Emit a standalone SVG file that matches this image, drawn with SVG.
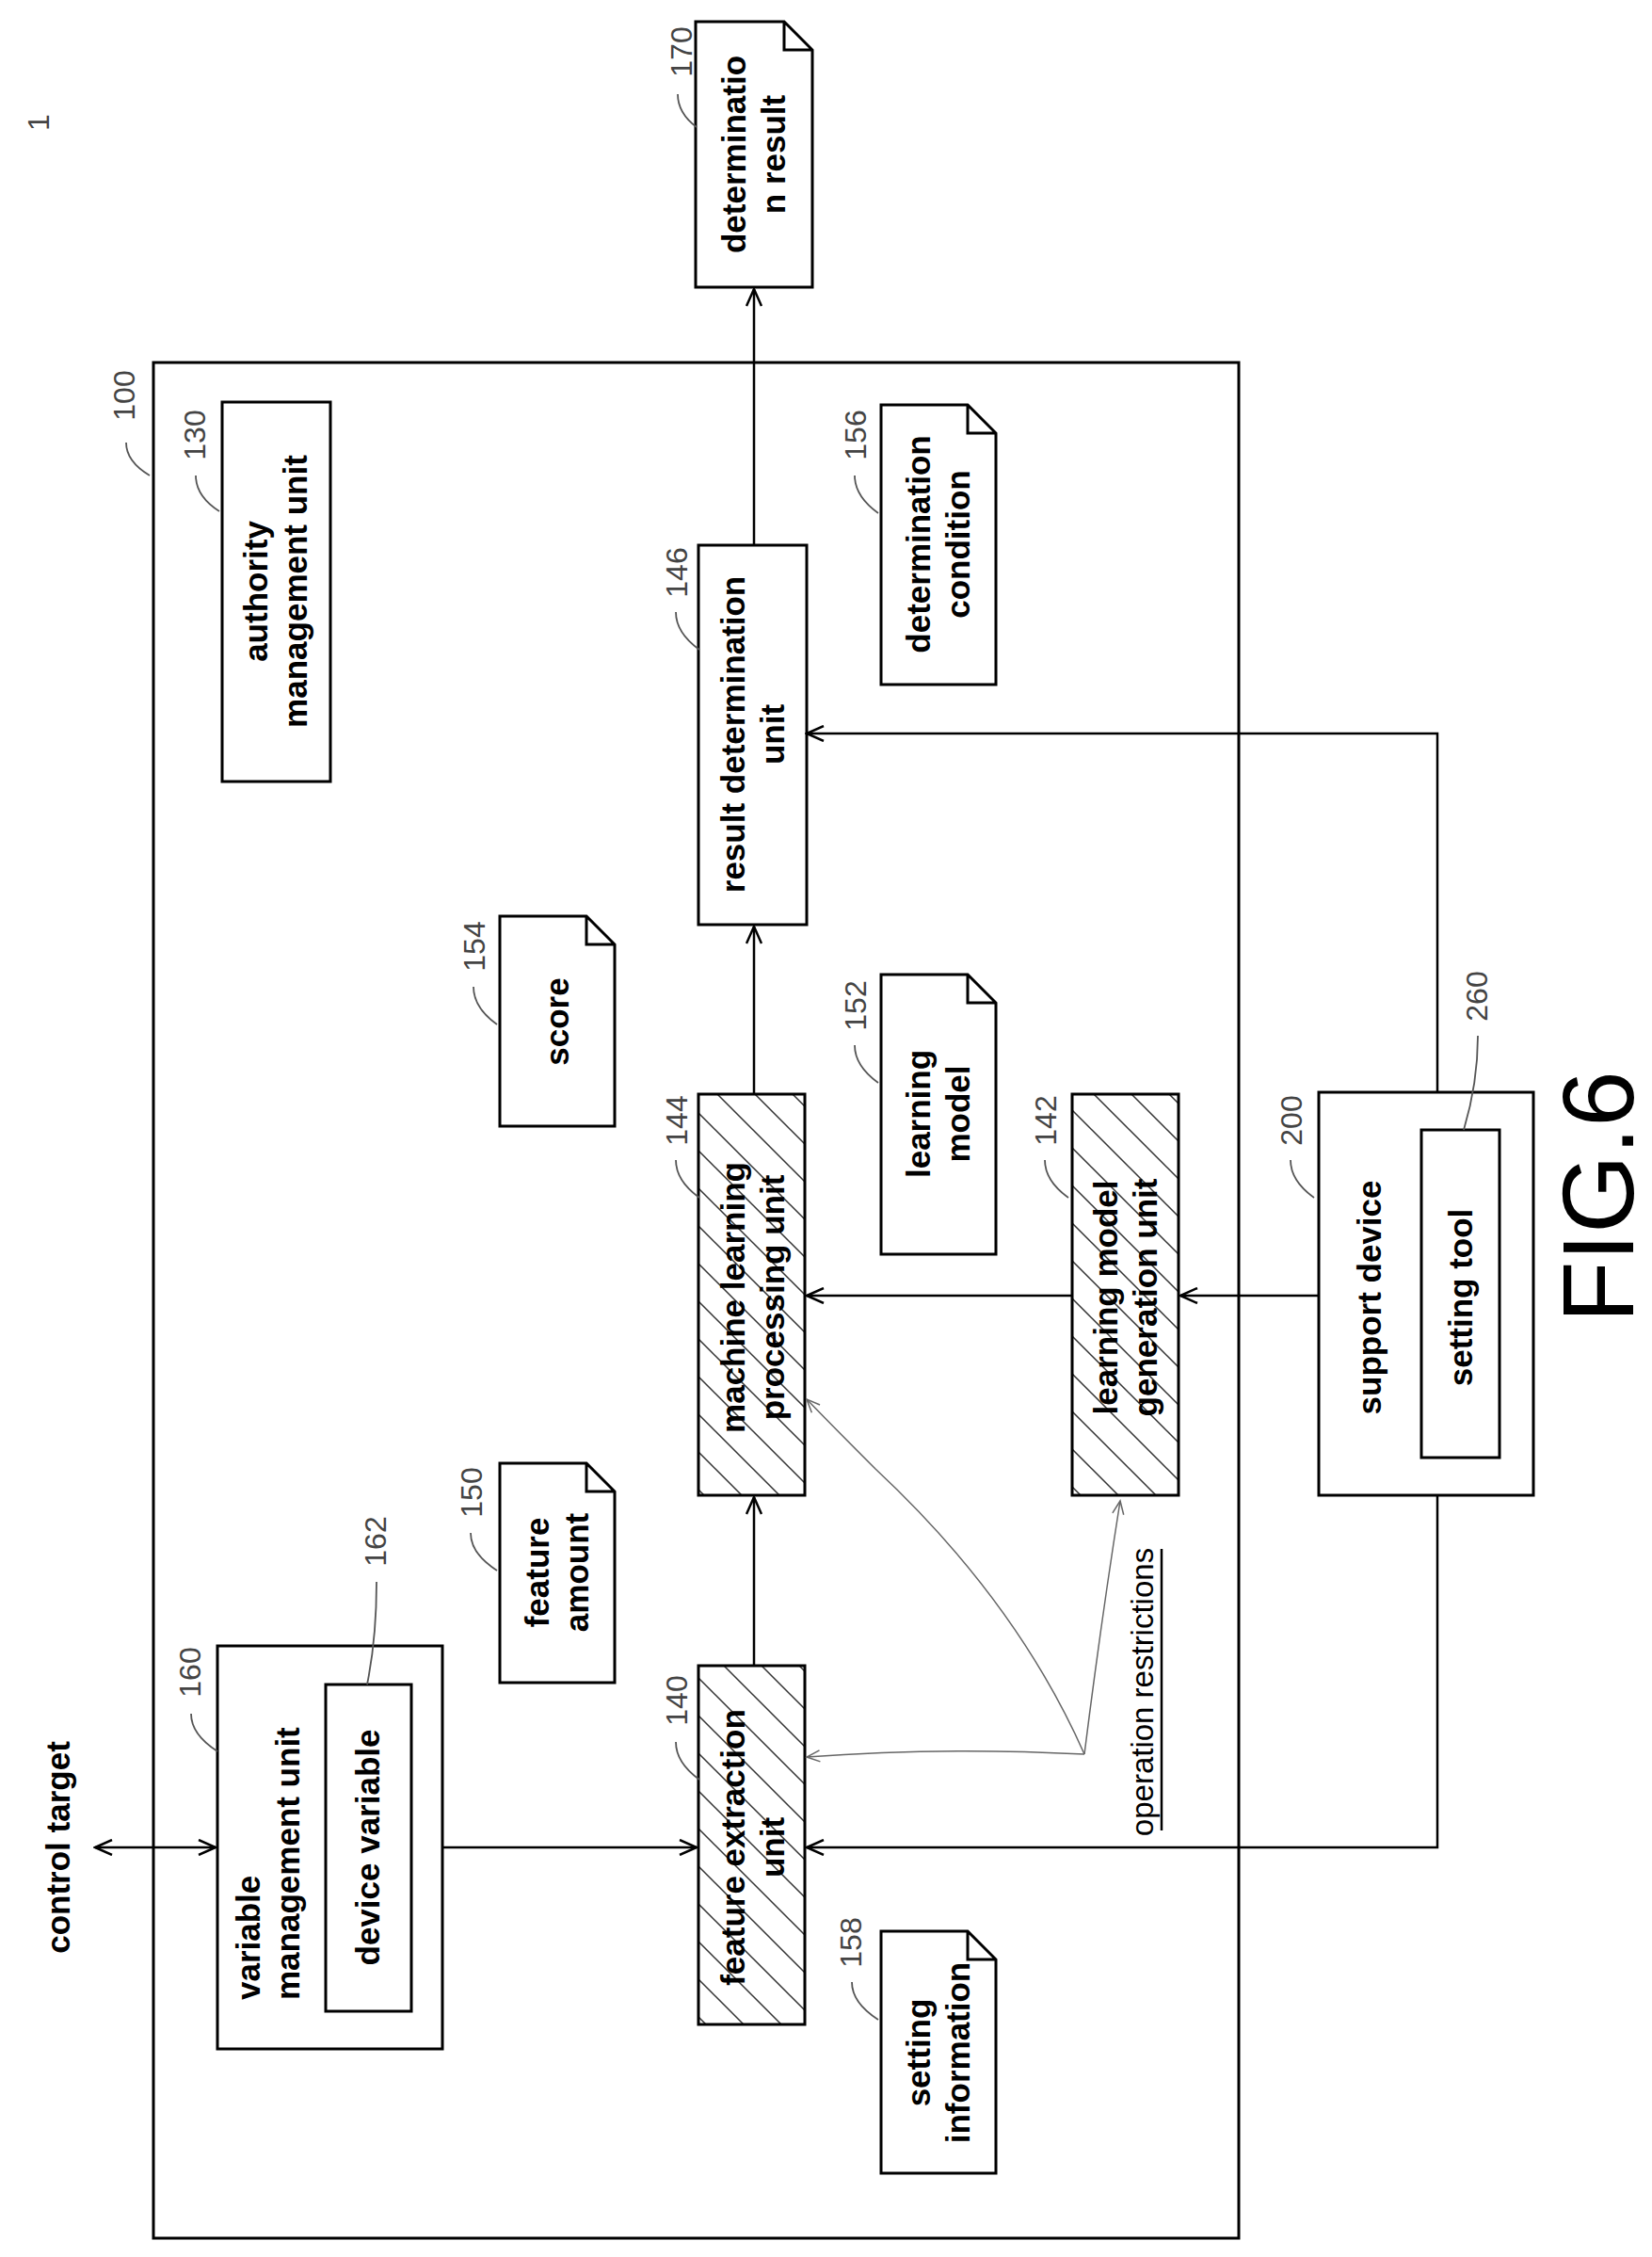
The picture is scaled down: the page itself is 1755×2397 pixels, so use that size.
<svg xmlns="http://www.w3.org/2000/svg" width="1755" height="2397" viewBox="0 0 1755 2397">
<style>
.b{fill:#fff;stroke:#000;stroke-width:3}
.h{fill:url(#hatch);stroke:#000;stroke-width:3}
.t{font-family:"Liberation Sans",Arial,sans-serif;font-weight:bold;font-size:35px;fill:#000;text-anchor:middle}
.n{font-family:"Liberation Sans",Arial,sans-serif;font-size:32px;fill:#444;text-anchor:middle}
.l{fill:none;stroke:#000;stroke-width:2.5}
.ld{fill:none;stroke:#555;stroke-width:1.8}
.th{fill:none;stroke:#666;stroke-width:1.5}
</style>
<defs>
<pattern id="hatch" patternUnits="userSpaceOnUse" width="40" height="40">
<rect width="40" height="40" fill="#fff"/>
<path d="M0,0 L40,40 M-10,30 L10,50 M30,-10 L50,10" stroke="#333" stroke-width="1.5"/>
</pattern>
<marker id="a" markerWidth="22" markerHeight="18" refX="20" refY="9" orient="auto" markerUnits="userSpaceOnUse">
<path d="M2,1 L20,9 L2,17" fill="none" stroke="#000" stroke-width="2.5"/>
</marker>
<marker id="as" markerWidth="22" markerHeight="18" refX="2" refY="9" orient="auto" markerUnits="userSpaceOnUse">
<path d="M20,1 L2,9 L20,17" fill="none" stroke="#000" stroke-width="2.5"/>
</marker>
<marker id="at" markerWidth="18" markerHeight="14" refX="16" refY="7" orient="auto" markerUnits="userSpaceOnUse">
<path d="M2,1 L16,7 L2,13" fill="none" stroke="#666" stroke-width="1.5"/>
</marker>
</defs>

<text class="n" transform="translate(52,130) rotate(-90)">1</text>

<g id="n100">
<rect x="163" y="385" width="1153" height="1992" fill="none" stroke="#000" stroke-width="3"/>
<text class="n" transform="translate(143,420) rotate(-90)">100</text>
<path class="ld" d="M134,470 q0,20 25,35"/>
</g>

<g id="n170">
<path class="b" d="M739,23 L833,23 L863,53 L863,305 L739,305 Z M833,23 L833,53 L863,53"/>
<text class="t" transform="translate(801,164) rotate(-90)"><tspan x="0" y="-9">determinatio</tspan><tspan x="0" y="33">n result</tspan></text>
<text class="n" transform="translate(735,55) rotate(-90)">170</text>
<path class="ld" d="M720,100 q0,20 20,35"/>
</g>

<g id="n130">
<rect class="b" x="236" y="427" width="115" height="403"/>
<text class="t" transform="translate(293,628) rotate(-90)"><tspan x="0" y="-9">authority</tspan><tspan x="0" y="33">management unit</tspan></text>
<text class="n" transform="translate(218,462) rotate(-90)">130</text>
<path class="ld" d="M208,505 q0,22 25,38"/>
</g>

<g id="n146">
<rect class="b" x="742" y="579" width="115" height="403"/>
<text class="t" transform="translate(800,780) rotate(-90)"><tspan x="0" y="-9">result determination</tspan><tspan x="0" y="33">unit</tspan></text>
<text class="n" transform="translate(730,608) rotate(-90)">146</text>
<path class="ld" d="M718,650 q0,22 25,40"/>
</g>

<g id="n156">
<path class="b" d="M936,430 L1028,430 L1058,460 L1058,727 L936,727 Z M1028,430 L1028,460 L1058,460"/>
<text class="t" transform="translate(997,578) rotate(-90)"><tspan x="0" y="-9">determination</tspan><tspan x="0" y="33">condition</tspan></text>
<text class="n" transform="translate(920,462) rotate(-90)">156</text>
<path class="ld" d="M908,505 q0,22 25,40"/>
</g>

<g id="n154">
<path class="b" d="M531,973 L623,973 L653,1003 L653,1196 L531,1196 Z M623,973 L623,1003 L653,1003"/>
<text class="t" transform="translate(592,1085) rotate(-90)"><tspan x="0" y="12">score</tspan></text>
<text class="n" transform="translate(515,1005) rotate(-90)">154</text>
<path class="ld" d="M503,1048 q0,22 25,40"/>
</g>

<g id="n152">
<path class="b" d="M936,1035 L1028,1035 L1058,1065 L1058,1332 L936,1332 Z M1028,1035 L1028,1065 L1058,1065"/>
<text class="t" transform="translate(997,1183) rotate(-90)"><tspan x="0" y="-9">learning</tspan><tspan x="0" y="33">model</tspan></text>
<text class="n" transform="translate(920,1068) rotate(-90)">152</text>
<path class="ld" d="M908,1110 q0,22 25,40"/>
</g>

<g id="n144">
<rect class="h" x="742" y="1162" width="113" height="426"/>
<text class="t" transform="translate(800,1378) rotate(-90)"><tspan x="0" y="-9">machine learning</tspan><tspan x="0" y="33">processing unit</tspan></text>
<text class="n" transform="translate(730,1190) rotate(-90)">144</text>
<path class="ld" d="M718,1232 q0,22 25,40"/>
</g>

<g id="n142">
<rect class="h" x="1139" y="1162" width="113" height="426"/>
<text class="t" transform="translate(1196,1378) rotate(-90)"><tspan x="0" y="-9">learning model</tspan><tspan x="0" y="33">generation unit</tspan></text>
<text class="n" transform="translate(1122,1190) rotate(-90)">142</text>
<path class="ld" d="M1110,1232 q0,22 25,40"/>
</g>

<g id="n200">
<rect class="b" x="1401" y="1160" width="228" height="428"/>
<text class="t" transform="translate(1455,1378) rotate(-90)"><tspan x="0" y="12">support device</tspan></text>
<text class="n" transform="translate(1383,1190) rotate(-90)">200</text>
<path class="ld" d="M1371,1232 q0,22 25,40"/>
<rect class="b" x="1510" y="1200" width="83" height="348"/>
<text class="t" transform="translate(1552,1378) rotate(-90)"><tspan x="0" y="12">setting tool</tspan></text>
<text class="n" transform="translate(1580,1058) rotate(-90)">260</text>
<path class="ld" d="M1570,1100 q0,50 -15,100"/>
</g>

<g id="n150">
<path class="b" d="M531,1554 L623,1554 L653,1584 L653,1787 L531,1787 Z M623,1554 L623,1584 L653,1584"/>
<text class="t" transform="translate(592,1670) rotate(-90)"><tspan x="0" y="-9">feature</tspan><tspan x="0" y="33">amount</tspan></text>
<text class="n" transform="translate(512,1585) rotate(-90)">150</text>
<path class="ld" d="M500,1628 q0,22 28,40"/>
</g>

<g id="n160">
<rect class="b" x="231" y="1748" width="239" height="428"/>
<text class="t" style="text-anchor:start" transform="translate(276,2124) rotate(-90)">variable</text>
<text class="t" style="text-anchor:start" transform="translate(318,2124) rotate(-90)">management unit</text>
<text class="n" transform="translate(213,1776) rotate(-90)">160</text>
<path class="ld" d="M203,1820 q0,22 28,40"/>
<rect class="b" x="346" y="1789" width="91" height="347"/>
<text class="t" transform="translate(391,1962) rotate(-90)"><tspan x="0" y="12">device variable</tspan></text>
<text class="n" transform="translate(410,1637) rotate(-90)">162</text>
<path class="ld" d="M400,1680 q0,60 -10,109"/>
</g>

<g id="n140">
<rect class="h" x="742" y="1769" width="113" height="381"/>
<text class="t" transform="translate(800,1962) rotate(-90)"><tspan x="0" y="-9">feature extraction</tspan><tspan x="0" y="33">unit</tspan></text>
<text class="n" transform="translate(730,1806) rotate(-90)">140</text>
<path class="ld" d="M718,1850 q0,22 25,40"/>
</g>

<g id="n158">
<path class="b" d="M936,2051 L1028,2051 L1058,2081 L1058,2308 L936,2308 Z M1028,2051 L1028,2081 L1058,2081"/>
<text class="t" transform="translate(997,2180) rotate(-90)"><tspan x="0" y="-9">setting</tspan><tspan x="0" y="33">information</tspan></text>
<text class="n" transform="translate(915,2063) rotate(-90)">158</text>
<path class="ld" d="M905,2105 q0,22 28,40"/>
</g>

<g id="labels">
<text class="t" transform="translate(74,1962) rotate(-90)">control target</text>
<text class="t" style="font-weight:normal;font-size:33px" transform="translate(1225,1797) rotate(-90)">operation restrictions</text>
<line x1="1234" y1="1645" x2="1234" y2="1944" stroke="#000" stroke-width="2.5"/>
<text style="font-family:'Liberation Sans',Arial,sans-serif;font-size:107px;text-anchor:middle;fill:#000" transform="translate(1735,1271) rotate(-90)">FIG.6</text>
</g>

<g id="connectors">
<line class="l" x1="801" y1="579" x2="801" y2="307" marker-end="url(#a)"/>
<line class="l" x1="801" y1="1162" x2="801" y2="984" marker-end="url(#a)"/>
<line class="l" x1="801" y1="1769" x2="801" y2="1590" marker-end="url(#a)"/>
<line class="l" x1="1139" y1="1376" x2="857" y2="1376" marker-end="url(#a)"/>
<line class="l" x1="1401" y1="1376" x2="1254" y2="1376" marker-end="url(#a)"/>
<path class="l" d="M1527,1160 L1527,779 L857,779" marker-end="url(#a)"/>
<path class="l" d="M1527,1588 L1527,1962 L857,1962" marker-end="url(#a)"/>
<line class="l" x1="470" y1="1962" x2="740" y2="1962" marker-end="url(#a)"/>
<line class="l" x1="101" y1="1962" x2="229" y2="1962" marker-start="url(#as)" marker-end="url(#a)"/>
<path class="th" d="M1152,1863 Q1000,1855 857,1866" marker-end="url(#at)"/>
<path class="th" d="M1152,1863 Q1080,1700 930,1560 Q880,1510 857,1486" marker-end="url(#at)"/>
<path class="th" d="M1152,1863 Q1170,1720 1190,1594" marker-end="url(#at)"/>
</g>
</svg>
